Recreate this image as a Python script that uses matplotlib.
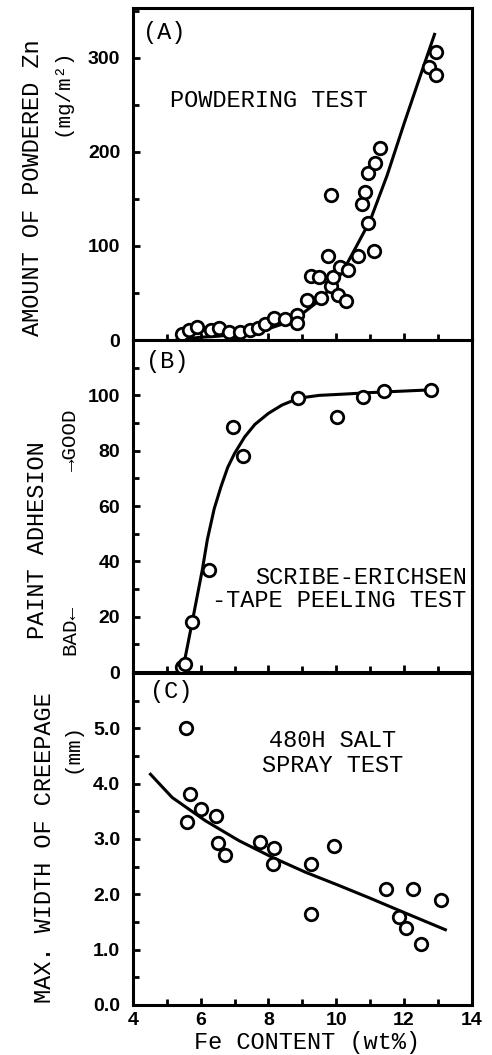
"""Zn-Fe galvannealed coating: powdering, paint adhesion and creepage vs Fe content."""
import matplotlib
matplotlib.use("Agg")
import matplotlib.pyplot as plt
from matplotlib.ticker import MultipleLocator, FixedLocator

INK = "#000000"
MONO = "Liberation Mono"

# tick labels are heavy sans digits; all other text is typewriter (set per text)
plt.rcParams["font.family"] = ["Liberation Sans", "DejaVu Sans"]
plt.rcParams["font.weight"] = "bold"

# ---- (A) powdering test ----
fe_a = [5.45, 5.65, 5.90, 6.30, 6.55, 6.85, 7.15, 7.45, 7.70, 7.90,
        8.15, 8.50, 8.85, 8.85, 9.15, 9.25, 9.50, 9.55, 9.75, 9.85,
        9.85, 9.90, 10.05, 10.10, 10.30, 10.35, 10.65, 10.95, 11.10, 10.75,
        10.85, 10.95, 11.15, 11.30, 12.95, 12.75, 12.95]
zn_a = [6, 11, 14, 11, 13, 9, 9, 11, 13, 17,
        23, 22, 27, 18, 43, 68, 67, 45, 89, 154,
        57, 67, 48, 78, 41, 74, 89, 124, 95, 145,
        157, 178, 188, 204, 306, 290, 282]
fit_fe_a = [5.3, 6.0, 6.5, 7.0, 7.5, 8.0, 8.5, 9.0, 9.5, 10.0, 10.3,
            10.6, 11.0, 11.5, 12.0, 12.5, 12.9]
fit_zn_a = [0, 3, 4, 6, 8, 12, 18, 28, 42, 62, 80,
            100, 127, 175, 230, 283, 325]

# ---- (B) scribe-Erichsen tape peeling ----
fe_b = [5.45, 5.55, 5.75, 6.26, 6.95, 7.24, 8.88, 10.03, 10.78, 11.40, 12.81]
adh_b = [2, 3, 18, 37, 88.5, 78, 99, 92, 99.5, 101.5, 101.8]
fit_fe_b = [5.45, 5.5, 5.75, 6.05, 6.2, 6.4, 6.6, 6.8, 7.0, 7.3, 7.6,
            8.0, 8.4, 8.9, 9.5, 10.3, 11.0, 12.8]
fit_adh_b = [0, 2.5, 18, 37, 48, 59, 67, 74, 79, 85, 89.5,
             93.5, 96.5, 99, 100, 100.5, 101, 102]

# ---- (C) 480h salt spray creepage ----
fe_c = [5.58, 5.70, 5.60, 6.02, 6.44, 6.52, 6.73, 7.74, 8.16, 8.13,
        9.26, 9.26, 9.93, 11.47, 12.27, 13.08, 11.85, 12.06, 12.49]
cr_c = [5.0, 3.82, 3.31, 3.54, 3.42, 2.92, 2.71, 2.94, 2.84, 2.54,
        2.55, 1.65, 2.88, 2.10, 2.10, 1.90, 1.59, 1.39, 1.11]
fit_fe_c = [4.52, 5.16, 6.14, 7.13, 8.11, 9.09, 10.08, 11.0, 11.85, 13.22]
fit_cr_c = [4.17, 3.75, 3.33, 2.97, 2.67, 2.40, 2.16, 1.93, 1.71, 1.36]

yt_a = [0, 100, 200, 300]
yt_b = [0, 20, 40, 60, 80, 100]
yt_c = [0.0, 1.0, 2.0, 3.0, 4.0, 5.0]
xt = [4, 6, 8, 10, 12, 14]


def style(ax, ymax, ticks, minor, fmt, show_x=False):
    ax.set_xlim(4, 14)
    ax.set_ylim(0, ymax)
    for s in ax.spines.values():
        s.set_linewidth(2.2)
    ax.xaxis.set_major_locator(FixedLocator(xt))
    ax.xaxis.set_minor_locator(MultipleLocator(1))
    ax.yaxis.set_major_locator(FixedLocator(ticks))
    ax.yaxis.set_minor_locator(MultipleLocator(minor))
    ax.yaxis.set_major_formatter(fmt)
    ax.tick_params(which="both", direction="in", top=False, right=False,
                   width=2, colors=INK, labelsize=14)
    ax.tick_params(which="major", length=5)
    ax.tick_params(axis="y", pad=9)
    ax.tick_params(which="minor", length=4)
    ax.tick_params(axis="x", labelbottom=show_x, pad=5)


def pts(ax, x, y, fx, fy):
    ax.plot(fx, fy, color=INK, lw=2.2, zorder=2)
    ax.plot(x, y, "o", ms=9, mfc="white", mec=INK, mew=2, zorder=3,
            clip_on=False)


fig = plt.figure(figsize=(4.92, 10.55), dpi=100)
L, W, H = 0.270, 0.689, 0.3147
ax_a = fig.add_axes([L, 0.6777, W, H])
ax_b = fig.add_axes([L, 0.3630, W, H])
ax_c = fig.add_axes([L, 0.0474, W, H])

pts(ax_a, fe_a, zn_a, fit_fe_a, fit_zn_a)
style(ax_a, 353, yt_a, 50, "{x:.0f}")
pts(ax_b, fe_b, adh_b, fit_fe_b, fit_adh_b)
style(ax_b, 120, yt_b, 10, "{x:.0f}")
pts(ax_c, fe_c, cr_c, fit_fe_c, fit_cr_c)
style(ax_c, 6.0, yt_c, 0.5, "{x:.1f}", show_x=True)

tk = dict(family=MONO, fontsize=17, color=INK, weight="normal")
ax_a.text(0.03, 0.96, "(A)", transform=ax_a.transAxes, va="top", **tk)
ax_a.text(0.40, 0.72, "POWDERING TEST", transform=ax_a.transAxes,
          ha="center", va="center", **tk)
ax_b.text(0.04, 0.97, "(B)", transform=ax_b.transAxes, va="top", **tk)
ax_b.text(0.985, 0.25, "SCRIBE-ERICHSEN\n-TAPE PEELING TEST",
          transform=ax_b.transAxes, ha="right", va="center",
          linespacing=0.95, **tk)
ax_c.text(0.05, 0.98, "(C)", transform=ax_c.transAxes, va="top", **tk)
ax_c.text(0.59, 0.76, "480H SALT\nSPRAY TEST", transform=ax_c.transAxes,
          ha="center", va="center", linespacing=1.1, **tk)


# axis titles placed in figure pixels
def ftxt(x, y, s, **kw):
    fig.text(x / 492, 1 - y / 1055, s, rotation=90, ha="center",
             va="center", **{**tk, **kw})


ftxt(33, 188, "AMOUNT OF POWDERED Zn")
ftxt(62, 92, "(mg/m\u00b2)", fontsize=15)
ftxt(38, 540, "PAINT ADHESION")
ftxt(70, 440, "\u2192GOOD", fontsize=15)
ftxt(70, 630, "BAD\u2190", fontsize=15)
ftxt(45, 848, "MAX. WIDTH OF CREEPAGE")
ftxt(72, 748, "(mm)", fontsize=15)
fig.text(307 / 492, 1 - 1042 / 1055, "Fe CONTENT (wt%)", ha="center",
         va="center", **tk)

fig.savefig("out.png", dpi=100, facecolor="white")
